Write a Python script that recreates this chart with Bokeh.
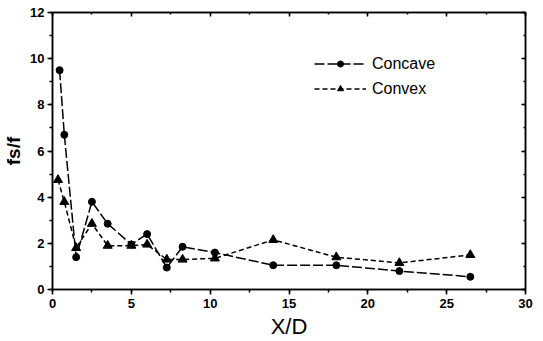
from bokeh.plotting import figure
from bokeh.models import (LinearAxis, SingleIntervalTicker, Range1d, Legend, LegendItem,
                          CustomJSTickFormatter)
from bokeh.embed import file_html
from bokeh.resources import INLINE

# Skin friction ratio along the wall for the two surface shapes
concave_x = [0.45, 0.75, 1.5, 2.5, 3.5, 5.0, 6.0, 7.25, 8.25, 10.3, 14.0, 18.0, 22.0, 26.5]
concave_y = [9.5, 6.7, 1.4, 3.8, 2.85, 1.95, 2.4, 0.95, 1.85, 1.6, 1.05, 1.05, 0.8, 0.55]

convex_x = [0.35, 0.75, 1.5, 2.5, 3.5, 5.0, 6.0, 7.25, 8.25, 10.3, 14.0, 18.0, 22.0, 26.5]
convex_y = [4.75, 3.8, 1.8, 2.85, 1.9, 1.9, 1.95, 1.3, 1.3, 1.35, 2.15, 1.4, 1.15, 1.5]

FONT = "Liberation Sans"

p = figure(width=543, height=341, output_backend="svg", toolbar_location=None,
           x_range=Range1d(0, 30), y_range=Range1d(0, 12),
           min_border_left=51, min_border_right=18, min_border_top=12, min_border_bottom=52)
p.background_fill_color = "white"
p.border_fill_color = "white"
p.outline_line_color = "black"
p.outline_line_width = 1.5
p.xgrid.visible = False
p.ygrid.visible = False

p.xaxis.ticker = SingleIntervalTicker(interval=5, num_minor_ticks=2)
p.yaxis.ticker = SingleIntervalTicker(interval=2, num_minor_ticks=2)

for ax in (p.xaxis[0], p.yaxis[0]):
    ax.axis_line_width = 1.5
    ax.major_tick_line_width = 1.5
    ax.minor_tick_line_width = 1.5
    ax.major_tick_out = 5
    ax.major_tick_in = 0
    ax.minor_tick_out = 3
    ax.minor_tick_in = 0
    ax.major_label_text_font = FONT
    ax.major_label_text_font_style = "bold"
    ax.major_label_text_font_size = "13px"
    ax.major_label_text_color = "black"
    ax.axis_label_text_color = "black"
    ax.axis_label_text_font = FONT

p.xaxis.major_label_standoff = 4
p.xaxis.axis_label = "X/D"
p.xaxis.axis_label_text_font_size = "22px"
p.xaxis.axis_label_text_font_style = "normal"
p.xaxis.axis_label_standoff = 3

p.yaxis.major_label_standoff = 3
p.yaxis.axis_label = "fs/f"
p.yaxis.axis_label_text_font_size = "19px"
p.yaxis.axis_label_text_font_style = "bold"
p.yaxis.axis_label_standoff = 3

# mirrored axes with inward ticks and no labels
blank = CustomJSTickFormatter(code="return ''")
top = LinearAxis(ticker=SingleIntervalTicker(interval=5, num_minor_ticks=2), formatter=blank)
right = LinearAxis(ticker=SingleIntervalTicker(interval=2, num_minor_ticks=2), formatter=blank)
for ax in (top, right):
    ax.axis_line_width = 1.5
    ax.major_tick_line_width = 1.5
    ax.minor_tick_line_width = 1.5
    ax.major_tick_out = 0
    ax.major_tick_in = 4
    ax.minor_tick_out = 0
    ax.minor_tick_in = 2
    ax.major_label_text_font_size = "0px"
    ax.major_label_standoff = 0
p.add_layout(top, "above")
p.add_layout(right, "right")

l1 = p.line(concave_x, concave_y, line_color="black", line_width=1.5, line_dash="10 3")
l2 = p.line(convex_x, convex_y, line_color="black", line_width=1.5, line_dash="5 3")
m1 = p.scatter(concave_x, concave_y, marker="circle", size=7, fill_color="black", line_color="black")
m2 = p.scatter(convex_x, convex_y, marker="triangle", size=9, fill_color="black", line_color="black")

# legend key symbols scale with glyph_height, so keep it short for small keys
legend = Legend(items=[LegendItem(label="Concave", renderers=[l1, m1]),
                       LegendItem(label="Convex", renderers=[l2, m2])],
                location=(262, 188), border_line_color=None, background_fill_alpha=0,
                padding=0, margin=0, spacing=0, glyph_width=52, glyph_height=15,
                label_height=25, label_standoff=6,
                label_text_font=FONT, label_text_font_size="16px", label_text_color="black")
p.add_layout(legend, "center")

open("out.html", "w").write(file_html(p, INLINE))
